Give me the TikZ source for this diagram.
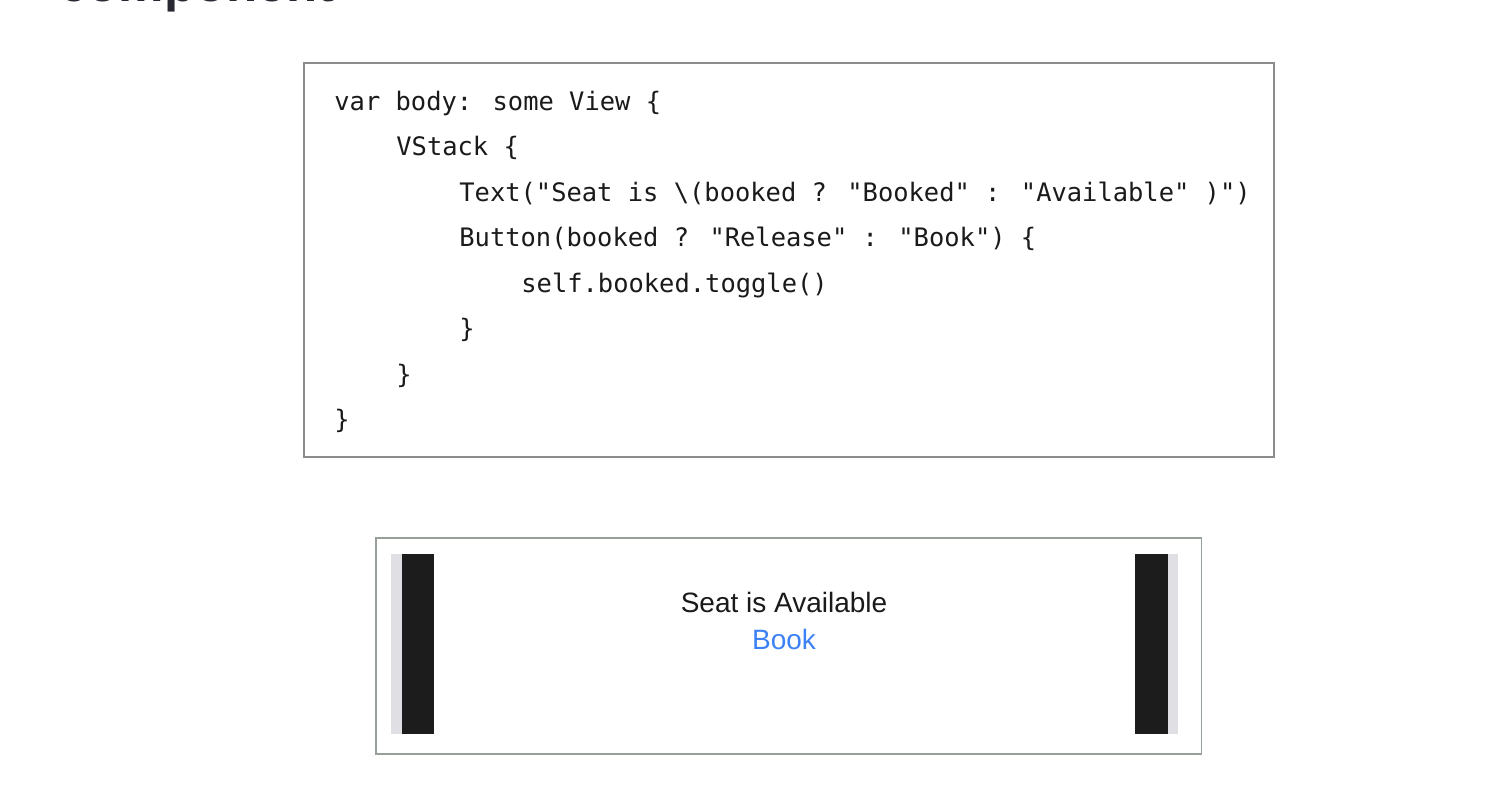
\documentclass[tikz,border=0pt]{standalone}
\usepackage{fontspec}
\setmainfont{Liberation Sans}
\newfontfamily\codefont{DejaVu Sans Mono}
\definecolor{codeink}{RGB}{26,26,26}
\definecolor{boxline}{RGB}{140,140,140}
\definecolor{phoneline}{RGB}{150,160,152}
\definecolor{barblack}{RGB}{28,28,28}
\definecolor{bargray}{RGB}{224,224,228}
\definecolor{iosblue}{RGB}{60,130,246}
\definecolor{headink}{RGB}{40,40,50}
\tikzset{
  codeline/.style={anchor=base west, inner sep=0pt, text=codeink,
    font=\codefont\fontsize{12.72}{15}\selectfont},
  uitext/.style={anchor=base, inner sep=0pt, font=\fontsize{14}{16}\selectfont},
  frame/.style={line width=0.6pt},
}
\begin{document}
\begin{tikzpicture}[x=0.5pt,y=-0.5pt]
\useasboundingbox (0,0) rectangle (1508,794);
\fill[white] (0,0) rectangle (1508,794);
% cut-off heading
\node[anchor=base west, inner sep=0pt, text=headink,
  font=\bfseries\fontsize{25.5}{28}\selectfont] (head) at (59,1.5) {component};
% code box
\draw[frame, draw=boxline] (304,63) rectangle (1274,457);
\node[codeline] (l1) at (334,110) {var body: some View \{};
\node[codeline] (l2) at (396,155.5) {VStack \{};
\node[codeline] (l3) at (459,201) {Text("Seat is \textbackslash(booked ? "Booked" : "Available" )")};
\node[codeline] (l4) at (459,246.5) {Button(booked ? "Release" : "Book") \{};
\node[codeline] (l5) at (521,292) {self.booked.toggle()};
\node[codeline] (l6) at (459,337.5) {\}};
\node[codeline] (l7) at (396,383) {\}};
\node[codeline] (l8) at (334,428.5) {\}};
% preview box
\draw[frame, draw=phoneline] (376,538) rectangle (1201.5,754);
\fill[bargray] (391,554) rectangle (402,734);
\fill[barblack] (402,554) rectangle (434,734);
\fill[barblack] (1135,554) rectangle (1168,734);
\fill[bargray] (1168,554) rectangle (1177.5,734);
\node[uitext, text=codeink] (seat) at (784,612) {Seat is Available};
\node[uitext, text=iosblue] (book) at (784,649) {Book};
\end{tikzpicture}
\end{document}
